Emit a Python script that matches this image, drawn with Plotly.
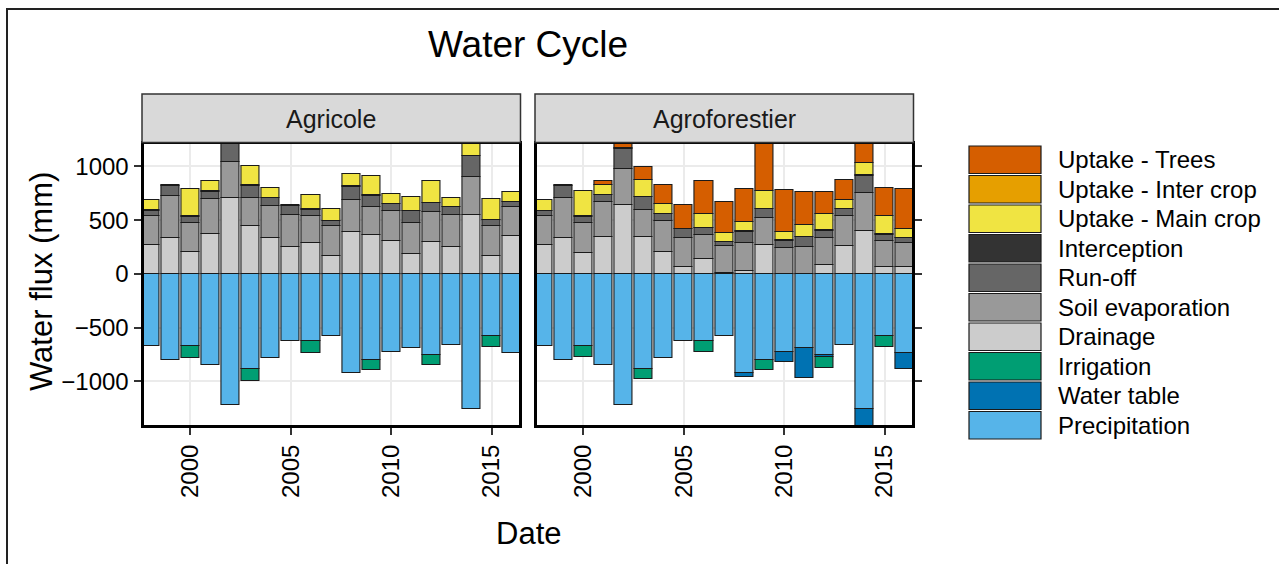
import plotly.graph_objects as go

W, H = 1279, 564

years = list(range(1998, 2017))

# ---------------- Agricole ----------------
drainage_agri = [268, 333, 209, 368, 704, 442, 336, 252, 287, 168, 392, 358, 308, 187, 299, 252, 548, 168, 355]
soil_evap_agri = [268, 390, 268, 327, 336, 262, 296, 296, 249, 274, 300, 265, 278, 290, 274, 296, 358, 274, 265]
runoff_agri = [53, 99, 56, 71, 190, 118, 72, 87, 62, 47, 121, 106, 62, 109, 84, 72, 190, 60, 47]
interception_agri = [4, 4, 4, 4, 4, 4, 4, 4, 4, 4, 4, 4, 4, 4, 4, 4, 4, 4, 4]
main_crop_agri = [93, 0, 255, 94, 0, 181, 96, 0, 131, 109, 112, 181, 93, 130, 203, 84, 130, 190, 87]
inter_crop_agri = [0] * 19
trees_agri = [0] * 19
precip_agri = [-670, -800, -670, -850, -1221, -888, -779, -620, -620, -573, -922, -800, -726, -692, -754, -657, -1255, -573, -738]
water_table_agri = [0] * 19
irrigation_agri = [0, 0, -109, 0, 0, -109, 0, 0, -112, 0, 0, -97, 0, 0, -97, 0, 0, -109, 0]

# ---------------- Agroforestier ----------------
drainage_af = [268, 333, 199, 346, 645, 340, 209, 65, 137, 6, 24, 268, 0, 0, 81, 262, 402, 65, 65]
soil_evap_af = [268, 371, 278, 321, 333, 258, 286, 268, 224, 254, 263, 249, 246, 255, 249, 274, 349, 243, 222]
runoff_af = [47, 118, 56, 68, 187, 115, 63, 84, 63, 37, 105, 87, 62, 85, 72, 68, 165, 56, 46]
interception_af = [4, 4, 4, 4, 4, 4, 4, 4, 4, 4, 4, 4, 4, 4, 4, 4, 4, 4, 4]
main_crop_af = [99, 0, 236, 87, 0, 156, 90, 0, 134, 78, 88, 162, 78, 109, 156, 78, 109, 172, 78]
inter_crop_af = [0] * 19
trees_af = [0, 0, 0, 38, 60, 118, 174, 225, 302, 290, 305, 480, 390, 311, 202, 187, 230, 264, 374]
precip_af = [-670, -800, -670, -850, -1221, -888, -779, -620, -620, -573, -922, -800, -726, -692, -754, -657, -1255, -573, -738]
water_table_af = [0, 0, 0, 0, 0, 0, 0, 0, 0, 0, -37, 0, -90, -277, -22, 0, -190, 0, -147]
irrigation_af = [0, 0, -100, 0, 0, -93, 0, 0, -103, 0, 0, -97, 0, 0, -103, 0, 0, -103, 0]

panels = ["Agricole", "Agroforestier"]

# legend order (top to bottom)
legend_names = ["Uptake - Trees", "Uptake - Inter crop", "Uptake - Main crop", "Interception",
                "Run-off", "Soil evaporation", "Drainage", "Irrigation", "Water table", "Precipitation"]
legend_colors = ["#D55E00", "#E69F00", "#F0E442", "#333333", "#666666", "#999999",
                 "#CCCCCC", "#009E73", "#0072B2", "#56B4E9"]
color_of = dict(zip(legend_names, legend_colors))

# stacking order (nearest zero first)
stack_agri = [("Drainage", drainage_agri), ("Soil evaporation", soil_evap_agri), ("Run-off", runoff_agri),
              ("Interception", interception_agri), ("Uptake - Main crop", main_crop_agri),
              ("Uptake - Inter crop", inter_crop_agri), ("Uptake - Trees", trees_agri),
              ("Precipitation", precip_agri), ("Water table", water_table_agri), ("Irrigation", irrigation_agri)]
stack_af = [("Drainage", drainage_af), ("Soil evaporation", soil_evap_af), ("Run-off", runoff_af),
            ("Interception", interception_af), ("Uptake - Main crop", main_crop_af),
            ("Uptake - Inter crop", inter_crop_af), ("Uptake - Trees", trees_af),
            ("Precipitation", precip_af), ("Water table", water_table_af), ("Irrigation", irrigation_af)]

FONT = "Liberation Sans, Arial, sans-serif"

fig = go.Figure()
for (stack, xa, ya) in [(stack_agri, "x", "y"), (stack_af, "x2", "y2")]:
    for name, vals in stack:
        fig.add_trace(go.Bar(
            x=years, y=vals, name=name, width=0.9,
            marker=dict(color=color_of[name], line=dict(color="#1a1a1a", width=1.1)),
            xaxis=xa, yaxis=ya, showlegend=False,
        ))

def px_x(p):
    return p / W

def px_y(p):
    return 1 - p / H

# pixel layout
left_x = (143.5, 519)
right_x = (536.5, 912)
top_y, bot_y = 144, 425
yrange = [-1405, 1209]
xrange = [1997.66, 2016.36]

axis_common = dict(
    range=xrange, tickmode="linear", tick0=2000, dtick=5,
    showgrid=True, gridcolor="#EBEBEB", gridwidth=1.5,
    showline=True, linecolor="black", linewidth=3, mirror=True,
    ticks="outside", ticklen=7, tickwidth=2, tickcolor="#333333",
    tickangle=-90, tickfont=dict(family=FONT, size=24, color="black"),
    zeroline=False, automargin=False, fixedrange=True,
)
yaxis_common = dict(
    range=yrange, tickmode="array", tickvals=[-1000, -500, 0, 500, 1000],
    showgrid=True, gridcolor="#EBEBEB", gridwidth=1.5,
    showline=True, linecolor="black", linewidth=3, mirror=True,
    ticks="outside", ticklen=7, tickwidth=2, tickcolor="#333333",
    tickfont=dict(family=FONT, size=24, color="black"),
    zeroline=False, automargin=False, fixedrange=True,
    domain=[px_y(bot_y), px_y(top_y)],
)

fig.update_layout(
    width=W, height=H, margin=dict(l=0, r=0, t=0, b=0),
    paper_bgcolor="white", plot_bgcolor="white",
    barmode="relative", bargap=0,
    font=dict(family=FONT, color="black"),
    xaxis=dict(domain=[px_x(left_x[0]), px_x(left_x[1])], anchor="y", **axis_common),
    xaxis2=dict(domain=[px_x(right_x[0]), px_x(right_x[1])], anchor="y2", **axis_common),
    yaxis=dict(anchor="x", side="left", **yaxis_common),
    yaxis2=dict(anchor="x2", side="right", showticklabels=False, **yaxis_common),
)

shapes = []
annotations = []

# outer frame (cropped figure border)
shapes.append(dict(type="rect", xref="paper", yref="paper",
                   x0=px_x(7), x1=px_x(W + 20), y0=px_y(H + 20), y1=px_y(9),
                   line=dict(color="#222222", width=2), fillcolor="rgba(0,0,0,0)", layer="above"))

# strips
for (x0, x1), label in [((142, 520.5), panels[0]), ((535, 913.5), panels[1])]:
    shapes.append(dict(type="rect", xref="paper", yref="paper",
                       x0=px_x(x0), x1=px_x(x1), y0=px_y(142.5), y1=px_y(94),
                       line=dict(color="#333333", width=1.5), fillcolor="#D9D9D9"))
    annotations.append(dict(text=label, xref="paper", yref="paper",
                            x=px_x((x0 + x1) / 2), y=px_y(119), showarrow=False,
                            xanchor="center", yanchor="middle",
                            font=dict(family=FONT, size=25, color="#1a1a1a")))

# title
annotations.append(dict(text="Water Cycle", xref="paper", yref="paper",
                        x=px_x(528), y=px_y(44), showarrow=False,
                        xanchor="center", yanchor="middle",
                        font=dict(family=FONT, size=37, color="black")))
# axis titles
annotations.append(dict(text="Water flux (mm)", xref="paper", yref="paper",
                        x=px_x(41), y=px_y(282), showarrow=False, textangle=-90,
                        xanchor="center", yanchor="middle",
                        font=dict(family=FONT, size=31, color="black")))
annotations.append(dict(text="Date", xref="paper", yref="paper",
                        x=px_x(528), y=px_y(533), showarrow=False,
                        xanchor="center", yanchor="middle",
                        font=dict(family=FONT, size=31, color="black")))

# manual legend
key_x0, key_x1 = 969, 1041
row_top, pitch, key_h = 146, 29.5, 27.5
for i, (name, col) in enumerate(zip(legend_names, legend_colors)):
    yt = row_top + i * pitch
    shapes.append(dict(type="rect", xref="paper", yref="paper",
                       x0=px_x(key_x0), x1=px_x(key_x1), y0=px_y(yt + key_h), y1=px_y(yt),
                       line=dict(color="#1a1a1a", width=1.2), fillcolor=col))
    annotations.append(dict(text=name, xref="paper", yref="paper",
                            x=px_x(1056), y=px_y(yt + key_h / 2), showarrow=False,
                            xanchor="left", yanchor="middle",
                            font=dict(family=FONT, size=24, color="black")))

fig.update_layout(shapes=shapes, annotations=annotations)

fig.write_html("out.html")
